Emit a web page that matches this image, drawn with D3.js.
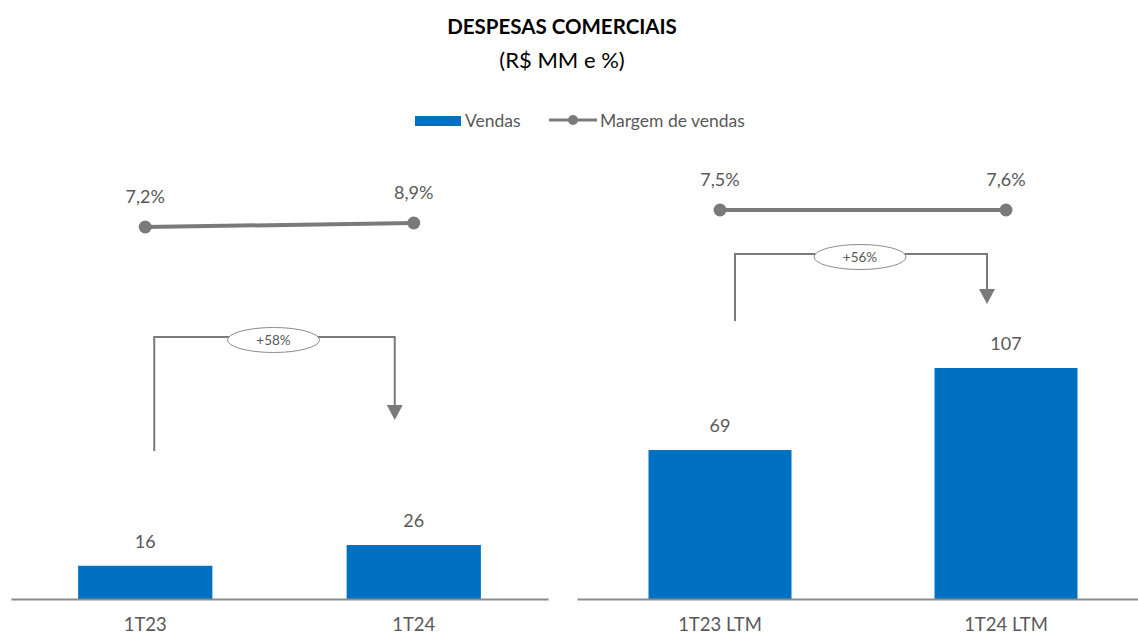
<!DOCTYPE html>
<html><head><meta charset="utf-8">
<script src="https://cdn.jsdelivr.net/npm/d3@7"></script>
<style>body{margin:0;background:#fff}svg{display:block;font-family:Lato,"Open Sans",sans-serif}</style>
</head><body><svg id="c" width="1138" height="635"></svg>
<script>
const categoriesLeft = ["1T23", "1T24"];
const vendasLeft = [16, 26];
const margemLeft = [7.2, 8.9];
const categoriesRight = ["1T23 LTM", "1T24 LTM"];
const vendasRight = [69, 107];
const margemRight = [7.5, 7.6];
const growthLabels = ["+58%", "+56%"];
const legendLabels = ["Vendas", "Margem de vendas"];

const svg = d3.select("#c");
const BLUE = "#0070C0", GRAY = "#7a7a7a", TXT = "#595959";

svg.append("text").attr("x", 562).attr("y", 34).attr("text-anchor", "middle")
  .attr("font-weight", "bold").attr("font-size", 20.5).attr("fill", "#000").text("DESPESAS COMERCIAIS");
svg.append("text").attr("x", 562).attr("y", 68).attr("text-anchor", "middle")
  .attr("font-size", 22).attr("fill", "#000").text("(R$ MM e %)");

// legend
const lg = svg.append("g").attr("font-size", 17.5).attr("fill", TXT);
lg.append("rect").attr("x", 415).attr("y", 116).attr("width", 46).attr("height", 10).attr("fill", BLUE);
lg.append("text").attr("x", 465).attr("y", 127).attr("fill", TXT).text(legendLabels[0]);
lg.append("line").attr("x1", 549).attr("x2", 597).attr("y1", 120).attr("y2", 120).attr("stroke", GRAY).attr("stroke-width", 3);
lg.append("circle").attr("cx", 573).attr("cy", 120).attr("r", 5).attr("fill", GRAY);
lg.append("text").attr("x", 600).attr("y", 127).attr("fill", TXT).text(legendLabels[1]);

function panel(cfg) {
  const g = svg.append("g");
  const x = d3.scaleBand().domain(cfg.cats).range(cfg.xr).paddingInner(0.5).paddingOuter(0.25);
  const y = d3.scaleLinear().domain([0, cfg.vmax]).range([599, cfg.vtop]);
  const yl = d3.scaleLinear().domain(cfg.mdom).range(cfg.mrange);
  const cx = c => x(c) + x.bandwidth() / 2;

  g.selectAll("rect.bar").data(cfg.vals).join("rect").attr("class", "bar")
    .attr("x", (d, i) => x(cfg.cats[i])).attr("width", x.bandwidth())
    .attr("y", d => y(d)).attr("height", d => 599 - y(d)).attr("fill", BLUE);

  const axis = g.append("g").attr("transform", "translate(0,599)")
    .call(d3.axisBottom(x).tickSize(0).tickPadding(19));
  axis.select(".domain").attr("stroke", "#8c8c8c").attr("stroke-width", 2);
  axis.selectAll("text").attr("font-size", 18.5).attr("fill", TXT).attr("font-family", "Lato,'Open Sans',sans-serif");

  g.selectAll("text.vl").data(cfg.vals).join("text").attr("class", "vl")
    .attr("x", (d, i) => cx(cfg.cats[i])).attr("y", d => y(d) - 18)
    .attr("text-anchor", "middle").attr("font-size", 18).attr("fill", TXT).text(d => d);

  const line = d3.line().x((d, i) => cx(cfg.cats[i])).y(d => yl(d));
  g.append("path").datum(cfg.marg).attr("d", line).attr("fill", "none")
    .attr("stroke", GRAY).attr("stroke-width", 4);
  g.selectAll("circle").data(cfg.marg).join("circle")
    .attr("cx", (d, i) => cx(cfg.cats[i])).attr("cy", d => yl(d)).attr("r", 6.5).attr("fill", GRAY);
  g.selectAll("text.ml").data(cfg.marg).join("text").attr("class", "ml")
    .attr("x", (d, i) => cx(cfg.cats[i])).attr("y", d => yl(d) - 24)
    .attr("text-anchor", "middle").attr("font-size", 18).attr("fill", TXT)
    .text(d => d.toFixed(1).replace(".", ",") + "%");

  // growth arrow
  const a = cfg.arrow;
  const x1 = cx(cfg.cats[0]) + a.dx1, x2 = cx(cfg.cats[1]) + a.dx2;
  g.append("path").attr("d", `M${x1},${a.yb} V${a.yt} H${x2} V${a.ya}`)
    .attr("fill", "none").attr("stroke", GRAY).attr("stroke-width", 2);
  g.append("path").attr("d", `M${x2 - 8},${a.ya} L${x2 + 8},${a.ya} L${x2},${a.ya + 15} Z`).attr("fill", GRAY);
  const ex = (x1 + x2) / 2 + a.edx;
  g.append("ellipse").attr("cx", ex).attr("cy", a.yt + 3).attr("rx", 46).attr("ry", 12.5)
    .attr("fill", "#fff").attr("stroke", "#8c8c8c").attr("stroke-width", 1);
  g.append("text").attr("x", ex).attr("y", a.yt + 8).attr("text-anchor", "middle")
    .attr("font-size", 13.5).attr("fill", TXT).text(cfg.growth);
}

panel({cats: categoriesLeft, vals: vendasLeft, marg: margemLeft, xr: [11, 548], vmax: 26, vtop: 545,
  mdom: [7.2, 8.9], mrange: [227, 223], growth: growthLabels[0],
  arrow: {dx1: 9, dx2: -19, yb: 451, yt: 337, ya: 405, edx: -1}});
panel({cats: categoriesRight, vals: vendasRight, marg: margemRight, xr: [577, 1149], vmax: 107, vtop: 368,
  mdom: [7.5, 7.6], mrange: [210, 210], growth: growthLabels[1],
  arrow: {dx1: 15, dx2: -19, yb: 321, yt: 254, ya: 289, edx: -1}});
</script></body></html>
